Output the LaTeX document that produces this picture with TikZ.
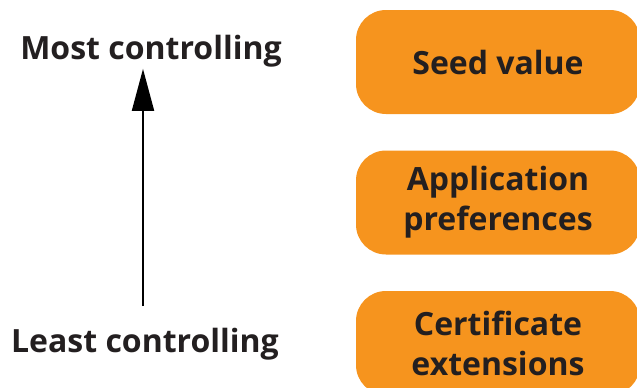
\documentclass[tikz,border=0pt]{standalone}
\usepackage{fontspec}
\setmainfont{Open Sans}
\usepackage{xcolor}
\usetikzlibrary{arrows.meta}

\definecolor{boxorange}{RGB}{246,148,30}
\definecolor{textdark}{RGB}{35,31,32}

\tikzset{
    level/.style={fill=boxorange, rounded corners=30pt, minimum width=284pt,
        minimum height=104pt, align=center, text=textdark,
        font=\fontsize{32}{40}\selectfont\bfseries},
    rank/.style={text=textdark, inner sep=2pt,
        font=\fontsize{32}{40}\selectfont\bfseries}
}

\begin{document}
\begin{tikzpicture}[x=1pt,y=1pt]
        \useasboundingbox (0,0) rectangle (637,-388);

        % levels
        \node[level] (seed) at (498,-62) {Seed value};
        \node[level] (prefs) at (498,-202.5) {Application\\preferences};
        \node[level] (certext) at (498,-343) {Certificate\\extensions};

        % axis
        \node[rank, anchor=base] (most) at (151,-59) {Most controlling};
        \node[rank, anchor=base] (least) at (145,-352) {Least controlling};
        \coordinate (tail) at (143,-306);

        \draw[line width=2pt, -{Triangle[width=22pt,length=42pt]}]
            (tail) -- (tail |- most.south);

    \end{tikzpicture}
\end{document}
